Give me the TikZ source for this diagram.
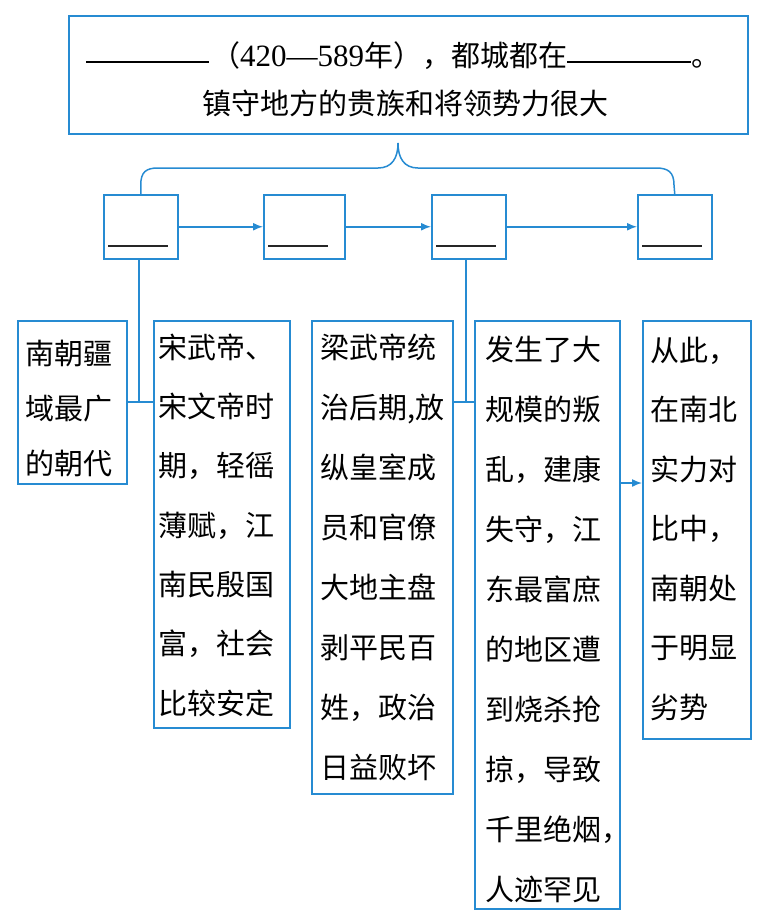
\documentclass[tikz,border=0pt]{standalone}
\usepackage{fontspec}
\setmainfont{Liberation Serif}
\newfontfamily\cjk{Noto Sans CJK SC}
\usetikzlibrary{arrows.meta}
\definecolor{lblue}{RGB}{38,139,210}
\newcommand\mystr{\rule{0pt}{30pt}}
\begin{document}
\begin{tikzpicture}[x=1pt,y=-1pt,
  bx/.style={draw=lblue,line width=1.5pt,anchor=north west,inner sep=0},
  txt/.style={anchor=north west,inner sep=0,align=left,font=\cjk\fontsize{29}{#1}\selectfont},
  ln/.style={draw=lblue,line width=1.5pt},
  arr/.style={draw=lblue,line width=1.5pt,-{Latex[length=10pt,width=8pt]}},
  blank/.style={draw=black!85,line width=2pt}]
\useasboundingbox (0,0) rectangle (767,922);
% top box
\node[bx,minimum width=679pt,minimum height=118pt] (top) at (68,15) {};
\node[anchor=base west,inner sep=0,font=\cjk\fontsize{29}{34}\selectfont] (l1) at (86,66)
  {\rule[3pt]{123pt}{1.6pt}\hspace{2pt}（{\rmfamily\fontsize{31}{34}\selectfont 420—589}年），都城都在\rule[3pt]{124pt}{1.6pt}。};
\node[anchor=base,inner sep=0,font=\cjk\fontsize{29}{34}\selectfont] (l2) at (405,114)
  {镇守地方的贵族和将领势力很大};
% small boxes
\node[bx,minimum width=74pt,minimum height=64pt] (b1) at (103,194) {};
\node[bx,minimum width=81pt,minimum height=64pt] (b2) at (263,194) {};
\node[bx,minimum width=74pt,minimum height=64pt] (b3) at (431,194) {};
\node[bx,minimum width=74pt,minimum height=64pt] (b4) at (637,194) {};
\foreach \b in {b1,b2,b3,b4}
  \draw[blank] ([shift={(5,-14)}]\b.south west) -- ++(60,0);
\draw[arr] (b1.east) -- (b2.west);
\draw[arr] (b2.east) -- (b3.west);
\draw[arr] (b3.east) -- (b4.west);
% brace
\coordinate (tip) at (398,143);
\draw[ln] (b1.north) -- ++(0,-9) .. controls ++(0,-13) and (146,168) .. (158,168)
  -- (378,168) .. controls (392,168) and (398,158) .. (tip)
  .. controls (398,158) and (404,168) .. (418,168) -- (656,168)
  .. controls (668,168) and (674,172) .. (674,185) -- (b4.north);
% big boxes
\node[bx,minimum width=109pt,minimum height=163pt] (A) at (17,320) {};
\node[bx,minimum width=136pt,minimum height=407pt] (B) at (153,320) {};
\node[bx,minimum width=141pt,minimum height=473pt] (C) at (311,320) {};
\node[bx,minimum width=145pt,minimum height=588pt] (D) at (474,320) {};
\node[bx,minimum width=108pt,minimum height=418pt] (E) at (642,320) {};
\node[txt=55] (tA) at (25,334) {\mystr 南朝疆\\\mystr 域最广\\\mystr 的朝代};
\node[txt=59.3] (tB) at (158,328) {\mystr 宋武帝、\\\mystr 宋文帝时\\\mystr 期，轻徭\\\mystr 薄赋，江\\\mystr 南民殷国\\\mystr 富，社会\\\mystr 比较安定};
\node[txt=60] (tC) at (320,328) {\mystr 梁武帝统\\\mystr 治后期,放\\\mystr 纵皇室成\\\mystr 员和官僚\\\mystr 大地主盘\\\mystr 剥平民百\\\mystr 姓，政治\\\mystr 日益败坏};
\node[txt=60] (tD) at (485,330) {\mystr 发生了大\\\mystr 规模的叛\\\mystr 乱，建康\\\mystr 失守，江\\\mystr 东最富庶\\\mystr 的地区遭\\\mystr 到烧杀抢\\\mystr 掠，导致\\\mystr 千里绝烟，\\\mystr 人迹罕见};
\node[txt=59.5] (tE) at (650,331) {\mystr 从此，\\\mystr 在南北\\\mystr 实力对\\\mystr 比中，\\\mystr 南朝处\\\mystr 于明显\\\mystr 劣势};
% connectors
\coordinate (jAB) at (139,402);
\coordinate (jCD) at (466,402);
\coordinate (yDE) at (0,483);
\draw[ln] (jAB |- b1.south) -- (jAB);
\draw[ln] (A.east |- jAB) -- (B.west |- jAB);
\draw[ln] (jCD |- b3.south) -- (jCD);
\draw[ln] (C.east |- jCD) -- (D.west |- jCD);
\draw[arr] (D.east |- yDE) -- (E.west |- yDE);
\end{tikzpicture}
\end{document}
